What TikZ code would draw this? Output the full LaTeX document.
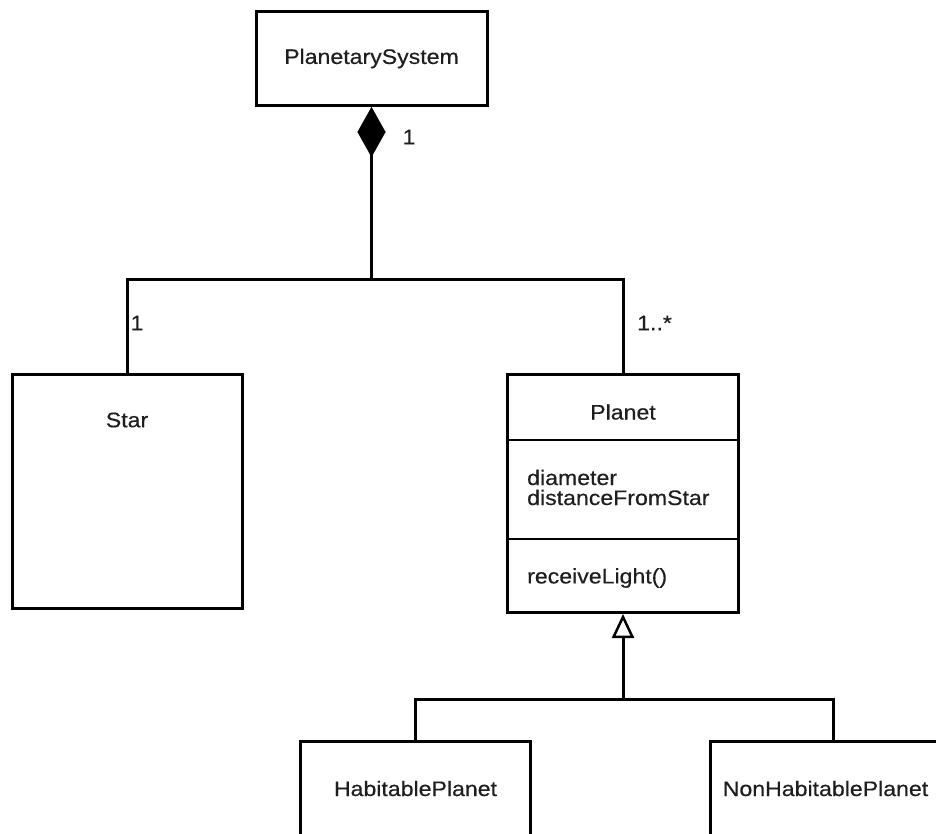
\documentclass[tikz,border=0pt]{standalone}
\usepackage{fontspec}
\setmainfont{Liberation Sans}[FakeStretch=1.1,FakeBold=0.4]
\usetikzlibrary{arrows.meta}
\definecolor{ink}{HTML}{1E1E1E}
\begin{document}
\begin{tikzpicture}[x=1pt,y=-1pt,
  cls/.style={draw=black,line width=3pt,rectangle,inner sep=0pt,font=\fontsize{21}{20}\selectfont,text=ink},
  lbl/.style={inner sep=0pt,font=\fontsize{21}{20}\selectfont,text=ink},
  link/.style={line width=3pt},
  divider/.style={line width=1.3pt}]
\useasboundingbox (0,0) rectangle (936,834);
\clip (0,0) rectangle (936,834);
% classes
\node[cls,minimum width=231,minimum height=94] (ps) at (371.5,58.5) {PlanetarySystem};
\node[cls,minimum width=230,minimum height=234] (star) at (127,491.5) {};
\node[lbl] (starname) at (127,420) {Star};
\node[cls,minimum width=231,minimum height=238] (planet) at (623,493.5) {};
\coordinate (d1) at (0,440);
\coordinate (d2) at (0,539);
\draw[divider] (planet.west |- d1) -- (planet.east |- d1);
\draw[divider] (planet.west |- d2) -- (planet.east |- d2);
\node[lbl] (pname) at (623,412) {Planet};
\node[lbl,anchor=west,align=left] (pattr) at (527,487.5) {diameter\\distanceFromStar};
\node[lbl,anchor=west] (pop) at (527,578) {receiveLight()};
\node[cls,minimum width=230,minimum height=94] (hab) at (415.5,788.5) {HabitablePlanet};
\node[cls,minimum width=230,minimum height=94] (nonhab) at (825.5,788.5) {NonHabitablePlanet};
% composition
\coordinate (jA) at (371.5,279);
\draw[link,{Diamond[length=50pt,width=28pt,line width=0.1pt]}-] (ps.south) -- (jA);
\draw[link] (star.north) |- (jA) -| (planet.north);
\node[lbl] (m1) at (409,137) {1};
\node[lbl] (m2) at (137,323) {1};
\node[lbl,anchor=west] (m3) at (637,323) {1..*};
% generalization
\coordinate (jB) at (623,699);
\draw[link,-{Triangle[open,length=24pt,width=22pt,line width=2.5pt]}] (jB) -- (planet.south);
\draw[link] (hab.north) |- (jB) -| ([xshift=7.5pt]nonhab.north);
\end{tikzpicture}
\end{document}
